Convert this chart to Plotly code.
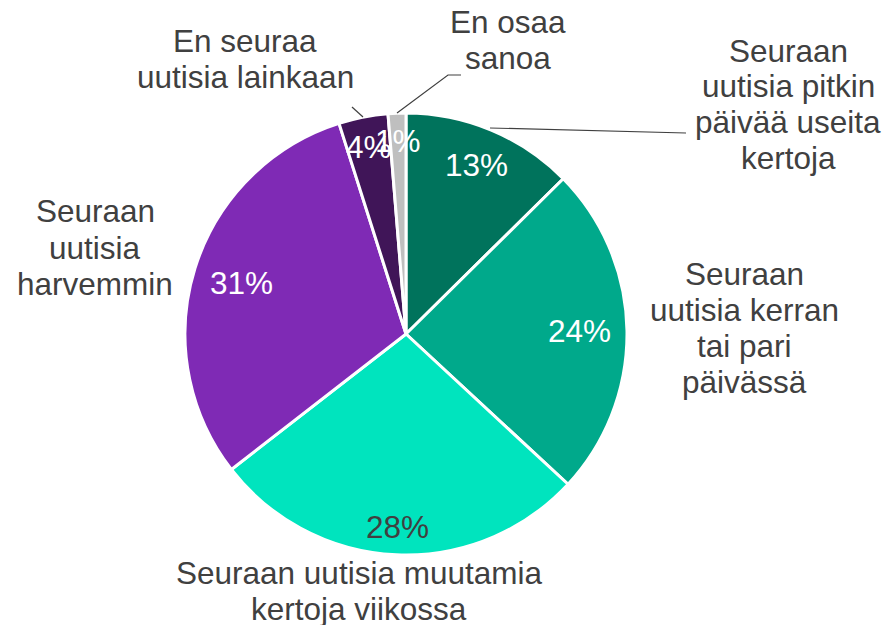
import math
import plotly.graph_objects as go

# ---- data ----
categories = [
    "Seuraan uutisia pitkin päivää useita kertoja",
    "Seuraan uutisia kerran tai pari päivässä",
    "Seuraan uutisia muutamia kertoja viikossa",
    "Seuraan uutisia harvemmin",
    "En seuraa uutisia lainkaan",
    "En osaa sanoa",
]
values = [12.6, 24.3, 27.6, 30.6, 3.6, 1.3]
label_lines = [
    ["Seuraan", "uutisia pitkin", "päivää useita", "kertoja"],
    ["Seuraan", "uutisia kerran", "tai pari", "päivässä"],
    ["Seuraan uutisia muutamia", "kertoja viikossa"],
    ["Seuraan", "uutisia", "harvemmin"],
    ["En seuraa", "uutisia lainkaan"],
    ["En osaa", "sanoa"],
]
colors = ["#00735C", "#00A98B", "#00E4BE", "#7F2AB5", "#401558", "#BFBFBF"]
pct_colors = ["white", "white", "#404040", "white", "white", "white"]

# ---- layout constants ----
W, H = 887, 625
CX, CY, R = 406, 334, 221  # pie centre / radius in pixels
FONT = "Liberation Sans, Arial, sans-serif"
FS = 31.5
TXT = "#404040"

# label placement (centre x, first baseline, line step) in pixels
label_pos = [
    (788, 62, 35.5),
    (744, 285, 36),
    (359, 584, 36),
    (95, 222, 36.5),
    (245, 52, 36),
    (508, 33, 36),
]


def px(x):
    return x / W


def py(y):
    return 1 - y / H


fig = go.Figure(
    go.Pie(
        labels=categories,
        values=values,
        sort=False,
        direction="clockwise",
        rotation=0,
        marker=dict(colors=colors, line=dict(color="white", width=3)),
        textinfo="none",
        hoverinfo="label+percent",
        showlegend=False,
        domain=dict(x=[px(CX - R), px(CX + R)], y=[py(CY + R), py(CY - R)]),
    )
)

annotations = []
total = sum(values)
cum = 0.0
for v, c in zip(values, pct_colors):
    frac = v / total
    mid = (cum + frac / 2) * 2 * math.pi
    cum += frac
    txt = f"{round(frac * 100)}%"
    wtxt = (0.556 * (len(txt) - 1) + 0.889) * FS
    hw, hh = wtxt / 2, 11
    rc = 0.93 * R - (abs(math.sin(mid)) * hw + abs(math.cos(mid)) * hh)
    x = CX + rc * math.sin(mid)
    y = CY - rc * math.cos(mid)
    annotations.append(dict(
        x=px(x), y=py(y), xref="paper", yref="paper", text=txt,
        showarrow=False, xanchor="center", yanchor="middle",
        font=dict(family=FONT, size=FS, color=c),
    ))

for lines, (lx, b0, step) in zip(label_lines, label_pos):
    for i, ln in enumerate(lines):
        base = b0 + i * step
        annotations.append(dict(
            x=px(lx), y=py(base - 11), xref="paper", yref="paper", text=ln,
            showarrow=False, xanchor="center", yanchor="middle",
            font=dict(family=FONT, size=FS, color=TXT),
        ))

leader_paths = [
    [(490, 128), (686, 133)],
    [(397, 113), (448, 75), (461, 75)],
    [(363, 117), (352, 107)],
]
shapes = []
for pts in leader_paths:
    d = "M " + " L ".join(f"{px(a):.5f},{py(b):.5f}" for a, b in pts)
    shapes.append(dict(type="path", path=d, xref="paper", yref="paper",
                       line=dict(color=TXT, width=1.2)))

fig.update_layout(
    width=W, height=H,
    margin=dict(l=0, r=0, t=0, b=0),
    paper_bgcolor="white", plot_bgcolor="white",
    annotations=annotations, shapes=shapes,
    font=dict(family=FONT, color=TXT),
)

fig.write_html(
    "out.html",
    config={"displayModeBar": False},
    post_script="document.body.style.margin='0';document.body.style.overflow='hidden';",
)
